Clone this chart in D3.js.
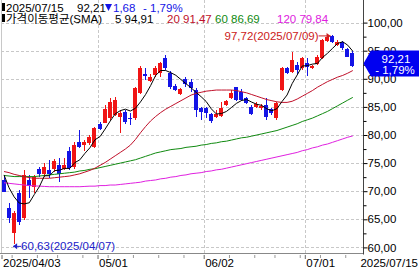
<!DOCTYPE html>
<html>
<head>
<meta charset="utf-8">
<script src="https://cdn.jsdelivr.net/npm/d3@7"></script>
<style>
html, body { margin: 0; padding: 0; background: #fff; }
svg { display: block; font-family: "Liberation Sans", "Noto Sans CJK KR", sans-serif; }
</style>
</head>
<body>
<svg id="chart" width="419" height="271"></svg>
<script>
// trading days shown
const dates = [
  '2025/04/03','2025/04/04','2025/04/07','2025/04/08','2025/04/09','2025/04/10','2025/04/11','2025/04/14','2025/04/15','2025/04/16',
  '2025/04/17','2025/04/21','2025/04/22','2025/04/23','2025/04/24','2025/04/25','2025/04/28','2025/04/29','2025/04/30','2025/05/01',
  '2025/05/02','2025/05/05','2025/05/06','2025/05/07','2025/05/08','2025/05/09','2025/05/12','2025/05/13','2025/05/14','2025/05/15',
  '2025/05/16','2025/05/19','2025/05/20','2025/05/21','2025/05/22','2025/05/23','2025/05/27','2025/05/28','2025/05/29','2025/05/30',
  '2025/06/02','2025/06/03','2025/06/04','2025/06/05','2025/06/06','2025/06/09','2025/06/10','2025/06/11','2025/06/12','2025/06/13',
  '2025/06/16','2025/06/17','2025/06/18','2025/06/20','2025/06/23','2025/06/24','2025/06/25','2025/06/26','2025/06/27','2025/06/30',
  '2025/07/01','2025/07/02','2025/07/03','2025/07/07','2025/07/08','2025/07/09','2025/07/10','2025/07/11','2025/07/14','2025/07/15'
];
const open = [
  72.0, 67.06, 62.6, 69.6, 65.2, 72.0, 70.7, 73.9, 73.0, 73.8,
  74.0, 74.66, 73.9, 77.2, 74.25, 78.8, 78.2, 78.5, 77.9, 81.9,
  82.2, 82.96, 83.55, 83.26, 84.15, 83.1, 83.0, 87.5, 90.9, 89.66,
  90.68, 90.98, 93.65, 90.98, 88.7, 87.3, 89.91, 89.48, 88.0, 84.75,
  84.75, 83.74, 83.26, 83.38, 85.34, 86.53, 88.49, 87.7, 86.53, 85.04,
  84.93, 84.75, 85.34, 84.57, 82.97, 88.0, 91.87, 91.26, 92.46, 91.87,
  92.76, 91.87, 92.58, 93.65, 96.7, 97.6, 96.0, 96.6, 95.25, 94.6
];
const high = [
  72.9, 67.9, 66.5, 70.3, 73.8, 72.9, 72.9, 74.3, 75.0, 75.5,
  75.8, 75.85, 75.85, 77.9, 78.8, 80.9, 79.1, 80.0, 81.5, 82.3,
  85.3, 86.6, 86.8, 84.45, 84.45, 83.9, 88.6, 92.2, 91.9, 90.8,
  92.2, 93.05, 94.25, 91.3, 89.1, 88.4, 90.27, 89.9, 88.3, 85.04,
  85.0, 83.85, 84.5, 85.9, 86.3, 88.0, 88.6, 88.1, 86.8, 85.3,
  85.9, 85.5, 86.53, 84.8, 85.93, 92.1, 92.1, 94.8, 93.04, 93.95,
  93.65, 92.5, 94.3, 97.0, 97.6, 97.72, 96.9, 96.7, 95.5, 94.9
];
const low = [
  69.8, 64.3, 60.63, 64.0, 64.9, 68.8, 69.7, 72.5, 72.5, 72.3,
  73.4, 71.7, 73.7, 73.8, 74.0, 77.7, 77.2, 78.2, 77.7, 80.9,
  82.1, 82.6, 83.3, 80.3, 81.9, 81.8, 82.7, 87.3, 89.7, 89.4,
  90.4, 90.4, 91.5, 88.2, 87.75, 87.1, 88.6, 87.7, 83.26, 82.67,
  82.96, 82.2, 83.0, 83.26, 85.2, 86.35, 86.0, 86.0, 85.5, 83.55,
  84.75, 84.5, 82.67, 83.6, 82.67, 87.8, 90.8, 90.98, 90.8, 91.6,
  90.55, 91.7, 92.46, 93.5, 96.5, 96.4, 95.8, 95.2, 93.8, 92.1
];
const close = [
  69.9, 65.2, 66.1, 64.6, 72.9, 70.9, 72.6, 73.05, 74.25, 73.0,
  75.4, 73.06, 74.66, 74.07, 78.2, 77.9, 78.8, 79.7, 81.2, 81.0,
  84.57, 85.9, 86.2, 83.97, 82.37, 82.9, 88.3, 91.9, 90.5, 90.37,
  91.87, 92.76, 91.87, 88.6, 88.0, 88.13, 89.02, 88.31, 84.45, 84.15,
  83.86, 82.54, 83.74, 84.75, 86.05, 87.42, 86.23, 86.23, 85.64, 83.74,
  85.52, 85.16, 83.26, 83.86, 85.64, 91.87, 90.98, 93.35, 91.57, 93.65,
  92.15, 92.33, 93.93, 96.9, 97.4, 96.6, 96.6, 95.43, 93.89, 92.21
];
// moving averages
const sma5 = [
  72.9, 70.6, 69.0, 67.9, 67.74, 67.94, 69.42, 70.81, 72.74, 72.76,
  73.66, 73.75, 74.07, 74.04, 75.08, 75.58, 76.73, 77.73, 79.16, 79.72,
  81.05, 82.47, 83.77, 84.33, 84.6, 84.27, 84.75, 85.89, 87.19, 88.79,
  90.59, 91.48, 91.47, 91.09, 90.62, 89.87, 89.12, 88.41, 87.58, 86.81,
  85.96, 84.66, 83.75, 83.81, 84.19, 84.9, 85.64, 86.14, 86.31, 85.85,
  85.47, 85.26, 84.66, 84.31, 84.69, 85.96, 87.12, 89.14, 90.68, 92.28,
  92.34, 92.61, 92.73, 93.79, 94.54, 95.43, 96.29, 96.59, 95.98, 94.91
];
const sma20 = [
  73.5, 73.3, 73.0, 72.8, 72.6, 72.4, 72.3, 72.3, 72.3, 72.3,
  72.4, 72.5, 72.6, 72.7, 72.9, 73.1, 73.4, 73.7, 74.1, 74.6,
  75.1, 75.7, 76.3, 76.9, 77.5, 78.2, 79.2, 80.4, 81.5, 82.5,
  83.3, 84.0, 84.6, 85.1, 85.6, 86.1, 86.6, 87.1, 87.4, 87.6,
  87.8, 87.9, 88.0, 88.0, 88.0, 88.0, 87.9, 87.7, 87.5, 87.2,
  86.9, 86.6, 86.3, 86.1, 85.9, 85.8, 85.8, 86.0, 86.4, 86.9,
  87.4, 87.9, 88.5, 89.0, 89.5, 89.9, 90.3, 90.6, 91.0, 91.47
];
const sma60 = [
  72.8, 72.7, 72.6, 72.6, 72.6, 72.6, 72.6, 72.7, 72.8, 72.9,
  73.0, 73.1, 73.2, 73.3, 73.4, 73.6, 73.7, 73.9, 74.0, 74.2,
  74.4, 74.6, 74.8, 75.0, 75.2, 75.4, 75.6, 75.9, 76.2, 76.5,
  76.8, 77.0, 77.2, 77.4, 77.5, 77.6, 77.8, 77.9, 78.0, 78.2,
  78.3, 78.5, 78.6, 78.8, 78.9, 79.1, 79.3, 79.5, 79.6, 79.8,
  80.0, 80.2, 80.4, 80.6, 80.8, 81.1, 81.4, 81.7, 82.0, 82.4,
  82.7, 83.0, 83.4, 83.8, 84.2, 84.7, 85.2, 85.7, 86.2, 86.69
];
const sma120 = [
  71.5, 71.4, 71.3, 71.2, 71.1, 71.0, 70.95, 70.9, 70.85, 70.8,
  70.8, 70.8, 70.8, 70.8, 70.8, 70.8, 70.85, 70.9, 70.9, 71.0,
  71.0, 71.1, 71.1, 71.2, 71.3, 71.4, 71.5, 71.6, 71.8, 71.9,
  72.0, 72.2, 72.3, 72.5, 72.6, 72.8, 72.9, 73.1, 73.2, 73.3,
  73.5, 73.6, 73.8, 73.9, 74.1, 74.3, 74.5, 74.7, 74.9, 75.1,
  75.3, 75.5, 75.7, 75.9, 76.1, 76.3, 76.5, 76.7, 76.9, 77.2,
  77.4, 77.7, 77.9, 78.2, 78.4, 78.7, 79.0, 79.3, 79.6, 79.84
];
const yTicks = [60, 65, 70, 75, 80, 85, 90, 95, 100];
const yMinor = [62.5, 67.5, 72.5, 77.5, 82.5, 87.5, 92.5, 97.5];
const xLabelDates = ['2025/04/03', '2025/05/01', '2025/06/02', '2025/07/01'];
const xLabelText = ['2025/04/03', '05/01', '06/02', '07/01'];
const weekStarts = ['2025/04/07','2025/04/14','2025/04/21','2025/04/28','2025/05/05','2025/05/12','2025/05/19',
  '2025/05/27','2025/06/09','2025/06/16','2025/06/23','2025/06/30','2025/07/07','2025/07/14'];
const lastDate = '2025/07/15';
const change = 1.68;
const changePct = -1.79;

const upColor = '#f01414', downColor = '#1414e6';
const maColors = {5: '#000000', 20: '#c0102a', 60: '#108a10', 120: '#e020e0'};

const svg = d3.select('#chart');
const plotR = 363.5, plotB = 253.5;

const x = d3.scalePoint().domain(dates).range([4, 352.8]);
const y = d3.scaleLinear().domain([60, 100]).range([247.4, 22.6]);
const fmt = v => d3.format('.2f')(v).replace('.', ',');
const idx = d3.range(dates.length);
const n = dates.length - 1;

// grid
const grid = svg.append('g').attr('stroke', '#c8c8c8').attr('stroke-dasharray', '3,2')
  .attr('shape-rendering', 'crispEdges');
grid.append('g').selectAll('line').data(yTicks).join('line')
  .attr('x1', 1).attr('x2', plotR)
  .attr('y1', d => Math.round(y(d)) + 0.5).attr('y2', d => Math.round(y(d)) + 0.5);
grid.append('g').selectAll('line').data(xLabelDates.slice(1)).join('line')
  .attr('x1', d => Math.round(x(d) - 2.5) + 0.5).attr('x2', d => Math.round(x(d) - 2.5) + 0.5)
  .attr('y1', 0).attr('y2', plotB);

svg.append('line').attr('x1', 1.5).attr('x2', 1.5).attr('y1', 0).attr('y2', plotB)
  .attr('stroke', '#c8c8c8');

// candles
const cg = svg.append('g').attr('shape-rendering', 'crispEdges');
const candle = cg.selectAll('g').data(idx).join('g')
  .attr('fill', i => close[i] >= open[i] ? upColor : downColor);
candle.append('rect')
  .attr('x', i => Math.floor(x(dates[i])))
  .attr('y', i => y(high[i]))
  .attr('width', 1)
  .attr('height', i => y(low[i]) - y(high[i]));
candle.append('rect')
  .attr('x', i => Math.floor(x(dates[i])) - 2)
  .attr('y', i => y(Math.max(open[i], close[i])))
  .attr('width', 4)
  .attr('height', i => Math.max(1, Math.abs(y(open[i]) - y(close[i]))));

// moving averages
const line = d3.line().x((d, i) => x(dates[i])).y(d => y(d));
[[120, sma120], [60, sma60], [20, sma20], [5, sma5]].forEach(([p, vals]) => {
  svg.append('path').datum(vals).attr('d', line)
    .attr('fill', 'none').attr('stroke', maColors[p]).attr('stroke-width', 1);
});

// max / min labels
const iMax = d3.maxIndex(high), iMin = d3.minIndex(low);
const maxG = svg.append('g').attr('fill', '#cc2020').attr('stroke', '#cc2020');
const mx = x(dates[iMax]) - 2, my = y(high[iMax]) + 0.5;
maxG.append('line').attr('x1', mx - 12).attr('x2', mx).attr('y1', my).attr('y2', my);
maxG.append('path').attr('stroke', 'none')
  .attr('d', `M${mx},${my}L${mx - 4},${my - 3}L${mx - 4},${my + 3}Z`);
maxG.append('text').attr('stroke', 'none').attr('x', mx - 12).attr('y', my + 4)
  .attr('text-anchor', 'end').attr('font-size', 11.5)
  .text(`${fmt(high[iMax])}(${dates[iMax]})`);

const minG = svg.append('g').attr('fill', '#2020c8').attr('stroke', '#2020c8');
const nx = x(dates[iMin]) - 1, ny = y(low[iMin]) + 2.5;
minG.append('line').attr('x1', nx).attr('x2', nx + 8).attr('y1', ny).attr('y2', ny);
minG.append('path').attr('stroke', 'none')
  .attr('d', `M${nx},${ny}L${nx + 4},${ny - 3}L${nx + 4},${ny + 3}Z`);
minG.append('text').attr('stroke', 'none').attr('x', nx + 8).attr('y', ny + 4)
  .attr('font-size', 11.5)
  .text(`${fmt(low[iMin])}(${dates[iMin]})`);

// axes
svg.append('line').attr('x1', 0).attr('x2', plotR).attr('y1', plotB).attr('y2', plotB)
  .attr('stroke', '#888');
svg.append('line').attr('x1', plotR).attr('x2', plotR).attr('y1', 0).attr('y2', plotB + 1)
  .attr('stroke', '#444');

const ya = svg.append('g').attr('transform', `translate(${plotR},0)`)
  .call(d3.axisRight(y).tickValues(yTicks).tickSize(4).tickPadding(0).tickFormat(fmt));
ya.attr('font-family', null).attr('font-size', 11.5);
ya.select('.domain').remove();
ya.selectAll('line').attr('stroke', '#000');
ya.selectAll('text').attr('fill', '#000');

const yb = svg.append('g').attr('transform', `translate(${plotR},0)`)
  .call(d3.axisRight(y).tickValues(yMinor).tickSize(3).tickFormat(''));
yb.select('.domain').remove();
yb.selectAll('line').attr('stroke', '#000');

const xb = svg.append('g').attr('transform', 'translate(-2.5,255)')
  .call(d3.axisBottom(x).tickValues(weekStarts).tickSize(3).tickFormat(''));
xb.select('.domain').remove();
xb.selectAll('line').attr('stroke', '#999');

const xa = svg.append('g').attr('transform', 'translate(-2.5,255)')
  .call(d3.axisBottom(x).tickValues(xLabelDates).tickSize(4)
    .tickFormat((d, i) => xLabelText[i]));
xa.attr('font-family', null).attr('font-size', 11.5);
xa.select('.domain').remove();
xa.selectAll('line').attr('stroke', '#666');
xa.selectAll('text').attr('fill', '#000').attr('text-anchor', 'start')
  .attr('x', 1).attr('y', 12).attr('dy', null);

svg.append('text').attr('x', 418).attr('y', 267).attr('text-anchor', 'end')
  .attr('font-size', 11.5).text(lastDate);

// price tag
const cy = y(close[n]) - 3;
svg.append('path').attr('fill', '#0000f0')
  .attr('d', `M${plotR},${cy}L371,${cy - 13}L419,${cy - 13}L419,${cy + 13}L371,${cy + 13}Z`);
svg.append('text').attr('x', 396).attr('y', cy - 0.5).attr('text-anchor', 'middle')
  .attr('fill', '#fff').attr('font-size', 11.5).text(fmt(close[n]));
svg.append('text').attr('x', 395).attr('y', cy + 11).attr('text-anchor', 'middle')
  .attr('fill', '#fff').attr('font-size', 11.5).text('- ' + fmt(Math.abs(changePct)) + '%');

// header
const hd = svg.append('g').attr('font-size', 11.5);
hd.append('rect').attr('x', 2).attr('y', 3).attr('width', 3).attr('height', 8).attr('fill', '#000');
hd.append('rect').attr('x', 2).attr('y', 14).attr('width', 3).attr('height', 8).attr('fill', '#000');
hd.append('text').attr('x', 6).attr('y', 12).text(lastDate);
hd.append('text').attr('x', 77).attr('y', 12).text(fmt(close[n]));
hd.append('path').attr('fill', downColor).attr('d', 'M105,4L112,4L108.5,11Z');
hd.append('text').attr('x', 113).attr('y', 12).attr('fill', downColor).text(fmt(change));
hd.append('text').attr('x', 143).attr('y', 12).attr('fill', downColor)
  .text('- ' + fmt(Math.abs(changePct)) + '%');

const legendItems = [
  {label: '가격이동평균(SMA)', x0: 6, color: '#000'},
  {label: '5 ' + fmt(sma5[n]), x0: 115, color: maColors[5]},
  {label: '20 ' + fmt(sma20[n]), x0: 167, color: maColors[20]},
  {label: '60 ' + fmt(sma60[n]), x0: 215, color: maColors[60]},
  {label: '120 ' + fmt(sma120[n]), x0: 277, color: maColors[120]}
];
hd.selectAll('text.lg').data(legendItems).join('text').attr('class', 'lg')
  .attr('x', d => d.x0).attr('y', 22.5).attr('fill', d => d.color).text(d => d.label);
</script>
</body>
</html>
